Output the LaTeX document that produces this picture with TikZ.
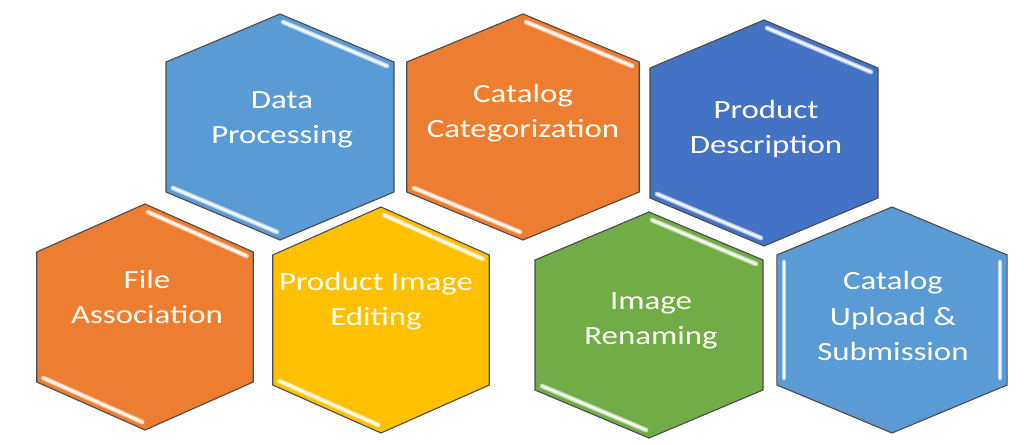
\documentclass[tikz,border=0pt]{standalone}
\usepackage{fontspec}
\newfontfamily\hexfont{Carlito}[FakeStretch=1.25]
\definecolor{cellblue}{HTML}{5B9BD5}
\definecolor{cellnavy}{HTML}{4472C4}
\definecolor{cellorange}{HTML}{ED7D31}
\definecolor{cellgold}{HTML}{FFC000}
\definecolor{cellgreen}{HTML}{70AD47}
\begin{document}
\begin{tikzpicture}[x=0.025cm, y=-0.025cm,
  hexbody/.style={draw=black!70, line width=0.8pt},
  glint/.style={draw=#1!40!white, double=white!92!#1, double distance=1.6pt, line width=0.9pt, line cap=round},
  hexlabel/.style={text=white!96!yellow, align=center, font=\hexfont\fontsize{18.7}{25}\selectfont},
  pics/hexcell/.style={code={
    \path[hexbody, fill=#1] (0,-113) -- (114,-65) -- (114,65) -- (0,113) -- (-114,65) -- (-114,-65) -- cycle;
  }},
  pics/slantglints/.style={code={
    \draw[glint=#1] (3,-105) -- (107,-61);
    \draw[glint=#1] (-107,61) -- (-3,105);
  }},
  pics/sideglints/.style={code={
    \draw[glint=#1] (-107,-58) -- (-107,58);
    \draw[glint=#1] (107,-58) -- (107,58);
  }}]
\useasboundingbox (0,0) rectangle (1024,445);

% top row
\pic at (280,127) {hexcell=cellblue};
\pic at (280,127) {slantglints=cellblue};
\node[hexlabel] (dataproc) at (282,120) {Data\\Processing};

\pic[xscale=1.02] at (523,127) {hexcell=cellorange};
\pic[xscale=1.02] at (523,127) {slantglints=cellorange};
\node[hexlabel] (catcat) at (523,113) {Catalog\\Categorization};

\pic at (764,133) {hexcell=cellnavy};
\pic at (764,133) {slantglints=cellnavy};
\node[hexlabel] (proddesc) at (766,129) {Product\\Description};

% bottom row
\pic[xscale=0.95] at (145,317) {hexcell=cellorange};
\pic[xscale=0.95] at (145,317) {slantglints=cellorange};
\node[hexlabel] (fileassoc) at (147,297) {File\\Association};

\pic[xscale=0.95] at (381,320) {hexcell=cellgold};
\pic[xscale=0.95] at (381,320) {slantglints=cellgold};
\node[hexlabel] (prodimg) at (376,301) {Product Image\\Editing};

\pic at (649,325) {hexcell=cellgreen};
\pic at (649,325) {slantglints=cellgreen};
\node[hexlabel] (imgren) at (651,321) {Image\\Renaming};

\pic[xscale=1.01] at (892,320) {hexcell=cellblue};
\pic[xscale=1.01] at (892,320) {sideglints=cellblue};
\node[hexlabel] (catup) at (893,316) {Catalog\\Upload \&\\Submission};
%\node[hexlabel] at (893,316) {Catalog Upload};
\end{tikzpicture}
\end{document}
